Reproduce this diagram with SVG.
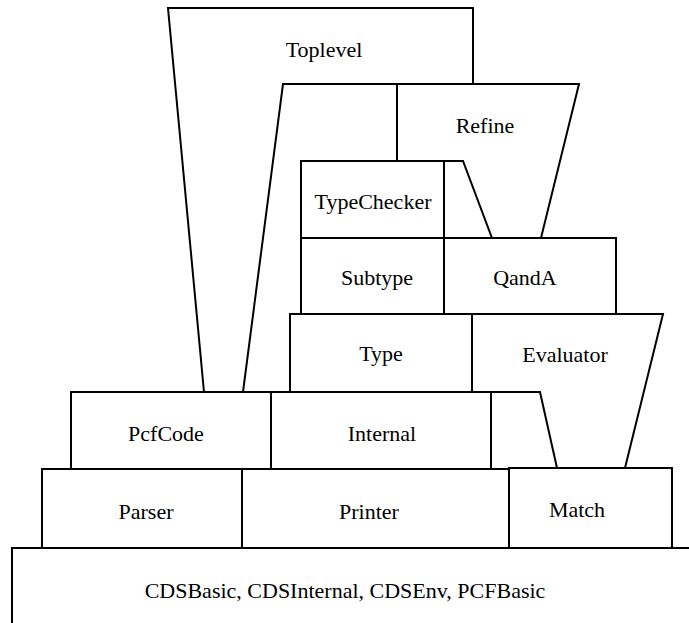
<svg xmlns="http://www.w3.org/2000/svg" width="689" height="623" viewBox="0 0 689 623">
<style>
.box{fill:none;stroke:#000;stroke-width:2;stroke-linejoin:miter}
.lbl{font-family:'Liberation Serif','Times New Roman','DejaVu Serif',serif;font-size:22px;fill:#000;text-anchor:middle}
</style>
<rect width="689" height="623" fill="#fff"/>
<g id="CDSBasic">
<polygon class="box" points="12,548 700,548 700,640 12,640"/>
<text class="lbl" font-family="Liberation Serif, serif" x="345" y="598">CDSBasic, CDSInternal, CDSEnv, PCFBasic</text>
</g>
<g id="Parser">
<rect class="box" x="42" y="469" width="200" height="79"/>
<text class="lbl" font-family="Liberation Serif, serif" x="146" y="519">Parser</text>
</g>
<g id="Printer">
<rect class="box" x="242" y="469" width="267" height="79"/>
<text class="lbl" font-family="Liberation Serif, serif" x="369" y="519">Printer</text>
</g>
<g id="Match">
<rect class="box" x="509" y="468" width="163" height="80"/>
<text class="lbl" font-family="Liberation Serif, serif" x="577" y="517">Match</text>
</g>
<g id="PcfCode">
<rect class="box" x="71" y="392" width="200" height="77"/>
<text class="lbl" font-family="Liberation Serif, serif" x="166" y="441">PcfCode</text>
</g>
<g id="Internal">
<rect class="box" x="271" y="392" width="220" height="77"/>
<text class="lbl" font-family="Liberation Serif, serif" x="382" y="441">Internal</text>
</g>
<g id="Type">
<rect class="box" x="290" y="314" width="182" height="78"/>
<text class="lbl" font-family="Liberation Serif, serif" x="381" y="361">Type</text>
</g>
<g id="Evaluator">
<polygon class="box" points="472,314 663,314 625,468 557,468 540,392 472,392"/>
<text class="lbl" font-family="Liberation Serif, serif" x="565" y="362">Evaluator</text>
</g>
<g id="Subtype">
<rect class="box" x="301" y="238" width="143" height="76"/>
<text class="lbl" font-family="Liberation Serif, serif" x="377" y="285">Subtype</text>
</g>
<g id="QandA">
<rect class="box" x="444" y="238" width="172" height="76"/>
<text class="lbl" font-family="Liberation Serif, serif" x="525" y="285">QandA</text>
</g>
<g id="TypeChecker">
<rect class="box" x="301" y="161" width="143" height="77"/>
<text class="lbl" font-family="Liberation Serif, serif" x="373" y="209">TypeChecker</text>
</g>
<g id="Refine">
<polygon class="box" points="397,84 579,84 541,238 492,238 463,161 397,161"/>
<text class="lbl" font-family="Liberation Serif, serif" x="485" y="133">Refine</text>
</g>
<g id="Toplevel">
<polygon class="box" points="168,8 473,8 473,84 283,84 243,392 204,392"/>
<text class="lbl" font-family="Liberation Serif, serif" x="324" y="57">Toplevel</text>
</g>
</svg>
